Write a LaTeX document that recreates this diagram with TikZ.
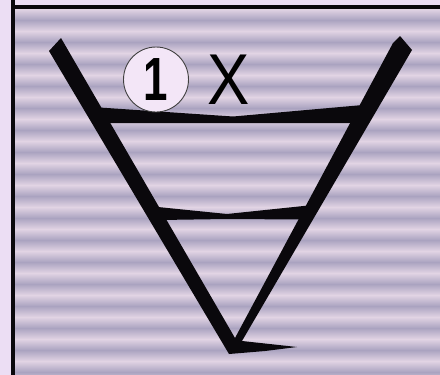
\documentclass[tikz,border=0pt]{standalone}
\usepackage{graphicx}
\usepackage{fontspec}
\setmainfont{Liberation Sans}
\definecolor{bgout}{RGB}{236,222,244}
\definecolor{stlight}{RGB}{226,212,228}
\definecolor{stdark}{RGB}{170,163,192}
\definecolor{circfill}{RGB}{243,230,247}
\definecolor{inkblack}{RGB}{10,8,12}
\tikzset{
  stripeA/.style={top color=stlight,bottom color=stdark},
  stripeB/.style={top color=stdark,bottom color=stlight},
  inkshape/.style={fill=inkblack},
  badge/.style={circle, draw=black!75, line width=0.9pt, fill=circfill, minimum size=65pt, inner sep=0pt},
  digit/.style={inner sep=0pt, font=\fontsize{61}{61}\selectfont\bfseries},
  bigletter/.style={anchor=base west, inner sep=0pt, font=\fontsize{72}{72}\selectfont, xscale=0.88, transform shape}
}
\begin{document}
\begin{tikzpicture}[x=1pt,y=-1pt]
\useasboundingbox (0,0) rectangle (440,375);
\clip (0,0) rectangle (440,375);
\fill[bgout] (0,0) rectangle (440,375);
\foreach \k [evaluate=\k as \yy using 9+22*\k] in {0,...,17} {
  \shade[stripeA] (13,\yy) rectangle (440,\yy+11.2);
  \shade[stripeB] (13,\yy+11) rectangle (440,\yy+22.2);
}
\draw[line width=4pt, inkblack] (13,-5) -- (13,7) -- (460,7);
\draw[line width=4pt, inkblack] (13,7) -- (13,390);
% V with foot
\fill[inkshape] (49,51) -- (229,354) -- (265,351) -- (297,347) -- (242,341)
  -- (412,50) -- (400,36) -- (393,43) -- (235,338) -- (61,38) -- cycle;
% upper bar
\fill[inkshape] (92,107) -- (233,116.5) -- (363,105) -- (358,123) -- (233,123) -- (106,123) -- cycle;
% lower bar
\fill[inkshape] (148,206) -- (227,214) -- (313,205) -- (303,219.5) -- (227,219) -- (160,220) -- cycle;
\node[badge] (one) at (156,79.5) {};
\node[digit] (onetext) at (one.center) {\scalebox{0.72}[1]{1}};
\node[bigletter] (ex) at (207,104) {X};
\end{tikzpicture}
\end{document}
